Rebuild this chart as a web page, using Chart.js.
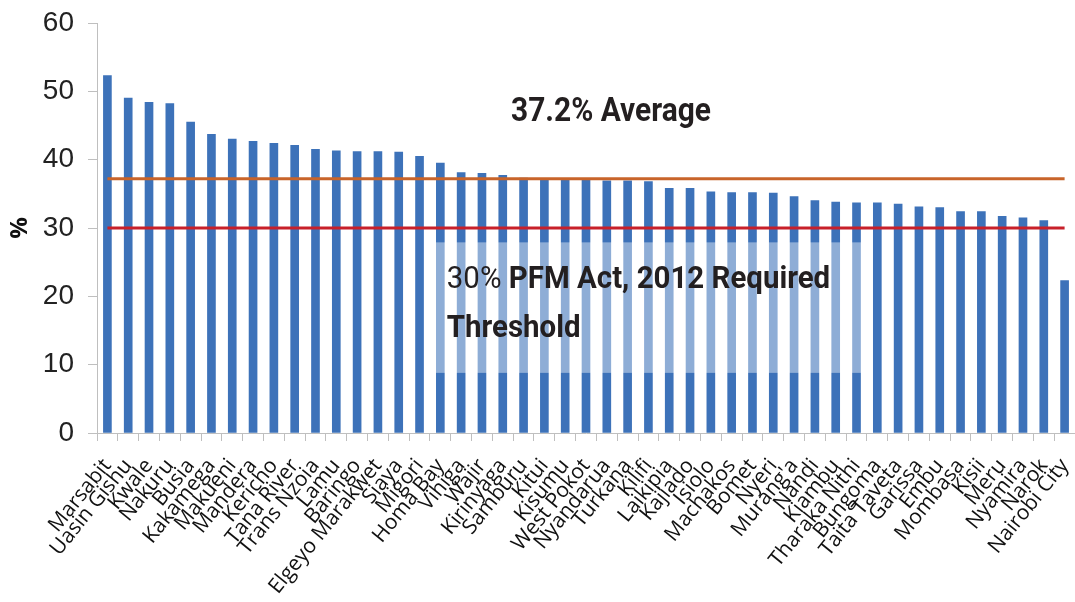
<!DOCTYPE html>
<html>
<head>
<meta charset="utf-8">
<script src="https://cdn.jsdelivr.net/npm/chart.js@4"></script>
<style>
  html, body { margin: 0; padding: 0; background: #fff; }
  #wrap { width: 1075px; height: 602px; }
</style>
</head>
<body>
<div id="wrap"><canvas id="chart" width="1075" height="602"></canvas></div>
<script>
// counties, sorted by share (%)
const COUNTIES = [
  "Marsabit", "Uasin Gishu", "Kwale", "Nakuru", "Busia", "Kakamega", "Makueni",
  "Mandera", "Kericho", "Tana River", "Trans Nzoia", "Lamu", "Baringo",
  "Elgeyo Marakwet", "Siaya", "Migori", "Homa Bay", "Vihiga", "Wajir",
  "Kirinyaga", "Samburu", "Kitui", "Kisumu", "West Pokot", "Nyandarua",
  "Turkana", "Kilifi", "Laikipia", "Kajiado", "Isiolo", "Machakos", "Bomet",
  "Nyeri", "Murang'a", "Nandi", "Kiambu", "Tharaka Nithi", "Bungoma",
  "Taita Taveta", "Garissa", "Embu", "Mombasa", "Kisii", "Meru", "Nyamira",
  "Narok", "Nairobi City"
];

const VALUES = [
  52.3, 49.0, 48.4, 48.2, 45.5, 43.7, 43.0,
  42.7, 42.4, 42.1, 41.5, 41.3, 41.2,
  41.2, 41.1, 40.5, 39.5, 38.1, 38.0,
  37.7, 37.3, 37.2, 37.2, 37.0, 36.9,
  36.9, 36.8, 35.8, 35.8, 35.3, 35.2, 35.2,
  35.1, 34.6, 34.0, 33.8, 33.7, 33.7,
  33.5, 33.1, 33.0, 32.4, 32.4, 31.7, 31.5,
  31.1, 22.3
];

const AVERAGE = 37.2;
const THRESHOLD = 30;
const Y_TICKS = [0, 10, 20, 30, 40, 50, 60];

const TEXT_COLOR = "#231f20";

// draw the two text annotations, placed in data space
const notesPlugin = {
  id: "notes",
  afterDatasetsDraw(chart) {
    const { ctx, scales: { x, y } } = chart;
    ctx.save();

    // translucent box over the bars
    const bx0 = x.getPixelForValue(15.35);
    const bx1 = x.getPixelForValue(36.35);
    const by0 = y.getPixelForValue(27.9);
    const by1 = y.getPixelForValue(8.8);
    ctx.fillStyle = "rgba(255,255,255,0.42)";
    ctx.fillRect(bx0, by0, bx1 - bx0, by1 - by0);

    ctx.fillStyle = TEXT_COLOR;
    ctx.textBaseline = "alphabetic";
    ctx.textAlign = "left";

    // "30% PFM Act, 2012 Required" / "Threshold"
    const squeeze = 0.92;
    const tx = bx0 + 20;
    const l1 = y.getPixelForValue(21.2);
    const l2 = y.getPixelForValue(14.0);
    ctx.save();
    ctx.translate(tx, l1);
    ctx.scale(squeeze, 1);
    ctx.font = "400 32px Roboto";
    ctx.fillText("30%", 0, 0);
    const w = ctx.measureText("30%").width;
    ctx.font = "700 32px Roboto";
    ctx.fillText(" PFM Act, 2012 Required", w, 0);
    ctx.restore();

    ctx.save();
    ctx.translate(tx, l2);
    ctx.scale(squeeze, 1);
    ctx.font = "700 32px Roboto";
    ctx.fillText("Threshold", 0, 0);
    ctx.restore();

    // "37.2% Average"
    ctx.save();
    ctx.translate(x.getPixelForValue(24.2), y.getPixelForValue(45.6));
    ctx.scale(0.88, 1);
    ctx.font = "700 34px Roboto";
    ctx.textAlign = "center";
    ctx.fillText("37.2% Average", 0, 0);
    ctx.restore();

    ctx.restore();
  }
};

const chart = new Chart(document.getElementById("chart").getContext("2d"), {
  data: {
    labels: COUNTIES,
    datasets: [
      {
        type: "line",
        label: "Average",
        data: COUNTIES.map(() => AVERAGE),
        borderColor: "#c8642a",
        borderWidth: 3,
        pointRadius: 0,
        order: 0
      },
      {
        type: "line",
        label: "Threshold",
        data: COUNTIES.map(() => THRESHOLD),
        borderColor: "#c8202a",
        borderWidth: 3,
        pointRadius: 0,
        order: 0
      },
      {
        type: "bar",
        label: "%",
        data: VALUES,
        backgroundColor: "#3d72b9",
        barThickness: 8,
        order: 1
      }
    ]
  },
  options: {
    responsive: false,
    animation: false,
    layout: { padding: { top: 23, right: 0, left: 0, bottom: 0 } },
    plugins: {
      legend: { display: false },
      tooltip: { enabled: false }
    },
    scales: {
      x: {
        grid: {
          offset: true,
          drawOnChartArea: false,
          drawTicks: true,
          tickLength: 8,
          color: "#bfbfbf"
        },
        border: { color: "#bfbfbf", width: 1 },
        ticks: {
          autoSkip: false,
          maxRotation: 51,
          minRotation: 51,
          color: "#111",
          padding: 13,
          font: { family: "'Open Sans', sans-serif", size: 21 }
        },
        afterFit(scale) {
          scale.height = 169;
          scale.paddingLeft = 0;
          scale.paddingRight = 0;
        }
      },
      y: {
        min: 0,
        max: 60,
        afterBuildTicks(scale) {
          scale.ticks = Y_TICKS.map((v) => ({ value: v }));
        },
        grid: {
          drawOnChartArea: false,
          drawTicks: true,
          tickLength: 9,
          color: "#bfbfbf"
        },
        border: { color: "#bfbfbf", width: 1 },
        ticks: {
          color: "#222",
          padding: 14,
          font: { family: "'Liberation Sans Narrow', 'Liberation Sans', sans-serif", size: 28 }
        },
        title: {
          display: true,
          text: "%",
          color: "#111",
          padding: { top: 6, bottom: 6 },
          font: { family: "'Open Sans', sans-serif", size: 24, weight: "bold" }
        },
        afterFit(scale) {
          scale.width = 97;
          scale.paddingTop = 0;
          scale.paddingBottom = 0;
        }
      }
    }
  },
  plugins: [notesPlugin]
});
</script>
</body>
</html>
